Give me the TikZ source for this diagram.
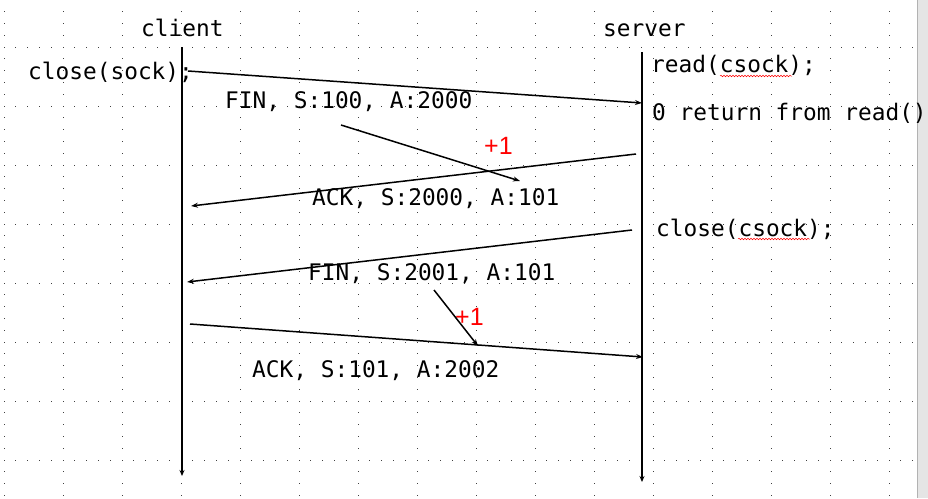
\documentclass[tikz,border=0pt]{standalone}
\usepackage{fontspec}
\setmonofont{DejaVu Sans Mono}
\newfontfamily\redfont{Liberation Sans}
\usetikzlibrary{arrows.meta,decorations.pathmorphing}
\begin{document}
\begin{tikzpicture}[x={(1pt,0pt)},y={(0pt,-1pt)},
  lbl/.style={font=\ttfamily\fontsize{22.8}{26}\selectfont, inner sep=0pt, anchor=base west},
  plus/.style={font=\redfont\fontsize{25}{28}\selectfont, text=red, inner sep=0pt, anchor=base west},
  life/.style={line width=1.7pt, -{Stealth[length=6pt,width=5pt]}},
  msg/.style={line width=1.5pt, -{Stealth[length=7pt,width=5pt]}},
  wavy/.style={red, line width=0.5pt, decorate, decoration={snake, amplitude=0.8pt, segment length=3pt}},
  griddot/.style={fill=black!75}]
\useasboundingbox (0,0) rectangle (928,498);
\fill[white] (0,0) rectangle (928,498);
% dotted grid
\foreach \k in {0,...,15}{
  \foreach \j in {-4,...,38}{
    \fill[griddot] ({4+59*\k-0.5},{47+11.8*\j-0.5}) rectangle ++(1,1);
  }
}
\foreach \r in {0,...,7}{
  \foreach \j in {0,...,77}{
    \fill[griddot] ({4+11.8*\j-0.5},{47+59*\r-0.5}) rectangle ++(1,1);
  }
}
% right gray bar
\fill[black!10] (917,0) rectangle (928,498);
\draw[black!30, line width=0.8pt] (917,0) -- (917,498);
% headers
\node[lbl] (client) at (141,36) {client};
\node[lbl] (server) at (603,36) {server};
% lifelines
\coordinate (ctop) at (182,47);
\coordinate (cbot) at (182,476);
\coordinate (stop) at (642,52);
\coordinate (sbot) at (642,482);
\draw[life] (ctop) -- (cbot);
\draw[life] (stop) -- (sbot);
% side texts
\node[lbl] (closesock) at (28,79) {close(sock);};
\node[lbl] (read) at (651,72) {read(csock);};
\node[lbl] (zero) at (652,120) {0 return from read()};
\node[lbl] (closecsock) at (656,236) {close(csock);};
\draw[wavy] (720,76) -- (792,76);
\draw[wavy] (738,239) -- (810,239);
% message labels
\node[lbl] (fin1) at (225,108) {FIN, S:100, A:2000};
\node[lbl] (ack1) at (312,205) {ACK, S:2000, A:101};
\node[lbl] (fin2) at (308,280) {FIN, S:2001, A:101};
\node[lbl] (ack2) at (252,377) {ACK, S:101, A:2002};
\node[plus] (p1) at (484,154) {+1};
\node[plus] (p2) at (455,325) {+1};
% messages
\coordinate (m1a) at (188,71);  \coordinate (m1b) at (642,103);
\coordinate (m2a) at (341,125); \coordinate (m2b) at (520,181);
\coordinate (m3a) at (636,154); \coordinate (m3b) at (191,206);
\coordinate (m4a) at (632,230); \coordinate (m4b) at (187,282);
\coordinate (m5a) at (434,290); \coordinate (m5b) at (478,346);
\coordinate (m6a) at (190,324); \coordinate (m6b) at (643,357);
\draw[msg] (m1a) -- (m1b);
\draw[msg] (m2a) -- (m2b);
\draw[msg] (m3a) -- (m3b);
\draw[msg] (m4a) -- (m4b);
\draw[msg] (m5a) -- (m5b);
\draw[msg] (m6a) -- (m6b);
\end{tikzpicture}
\end{document}
